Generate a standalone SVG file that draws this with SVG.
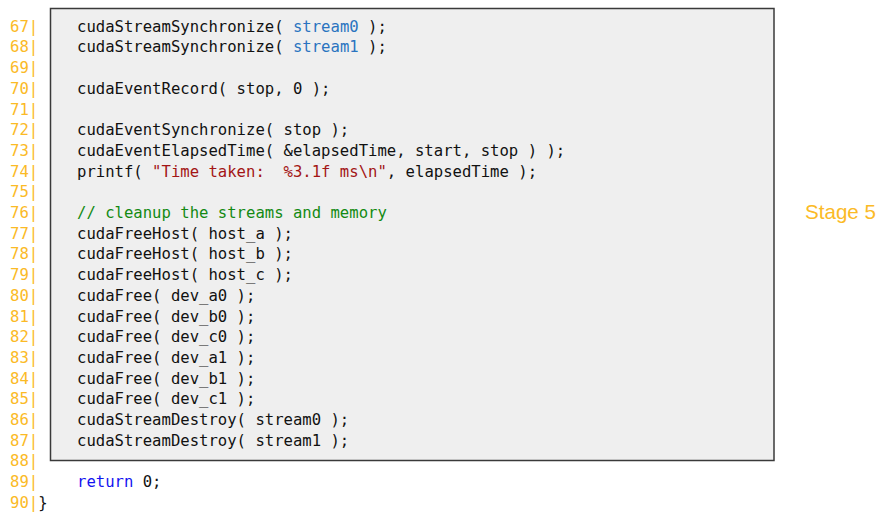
<svg xmlns="http://www.w3.org/2000/svg" width="886" height="522" viewBox="0 0 886 522">
<style>
text{white-space:pre}
.c{font-family:"DejaVu Sans Mono","Liberation Mono",monospace;font-size:15.6px;fill:#111}
.n{font-family:"DejaVu Sans Mono","Liberation Mono",monospace;font-size:15.6px;fill:#FBBA26}
.b{fill:#2A74C0}
.k{fill:#1414F0}
.s{fill:#A31515}
.g{fill:#138A13}
.st{font-family:"Liberation Sans","Open Sans",sans-serif;font-size:21px;fill:#FBBA26}
</style>
<rect width="886" height="522" fill="#fff"/>
<g id="codebox">
<rect x="50.5" y="8.5" width="723.5" height="452" fill="#EFEFEF" stroke="#3a3a3a" stroke-width="1.5"/>
</g>
<g id="linenumbers">
<text class="n" x="10" y="31.7">67|</text>
<text class="n" x="10" y="52.4">68|</text>
<text class="n" x="10" y="73.1">69|</text>
<text class="n" x="10" y="93.8">70|</text>
<text class="n" x="10" y="114.5">71|</text>
<text class="n" x="10" y="135.2">72|</text>
<text class="n" x="10" y="155.9">73|</text>
<text class="n" x="10" y="176.6">74|</text>
<text class="n" x="10" y="197.3">75|</text>
<text class="n" x="10" y="218">76|</text>
<text class="n" x="10" y="238.7">77|</text>
<text class="n" x="10" y="259.4">78|</text>
<text class="n" x="10" y="280.1">79|</text>
<text class="n" x="10" y="300.8">80|</text>
<text class="n" x="10" y="321.5">81|</text>
<text class="n" x="10" y="342.2">82|</text>
<text class="n" x="10" y="362.9">83|</text>
<text class="n" x="10" y="383.6">84|</text>
<text class="n" x="10" y="404.3">85|</text>
<text class="n" x="10" y="425">86|</text>
<text class="n" x="10" y="445.7">87|</text>
<text class="n" x="10" y="466.4">88|</text>
<text class="n" x="10" y="487.1">89|</text>
<text class="n" x="10" y="507.8">90|<tspan fill="#111">}</tspan></text>
</g>
<g id="code">
<text class="c" x="77" y="31.7">cudaStreamSynchronize( <tspan class="b">stream0</tspan> );</text>
<text class="c" x="77" y="52.4">cudaStreamSynchronize( <tspan class="b">stream1</tspan> );</text>
<text class="c" x="77" y="93.8">cudaEventRecord( stop, 0 );</text>
<text class="c" x="77" y="135.2">cudaEventSynchronize( stop );</text>
<text class="c" x="77" y="155.9">cudaEventElapsedTime( &amp;elapsedTime, start, stop ) );</text>
<text class="c" x="77" y="176.6">printf( <tspan class="s">"Time taken:  %3.1f ms\n"</tspan>, elapsedTime );</text>
<text class="c g" x="77" y="218">// cleanup the streams and memory</text>
<text class="c" x="77" y="238.7">cudaFreeHost( host_a );</text>
<text class="c" x="77" y="259.4">cudaFreeHost( host_b );</text>
<text class="c" x="77" y="280.1">cudaFreeHost( host_c );</text>
<text class="c" x="77" y="300.8">cudaFree( dev_a0 );</text>
<text class="c" x="77" y="321.5">cudaFree( dev_b0 );</text>
<text class="c" x="77" y="342.2">cudaFree( dev_c0 );</text>
<text class="c" x="77" y="362.9">cudaFree( dev_a1 );</text>
<text class="c" x="77" y="383.6">cudaFree( dev_b1 );</text>
<text class="c" x="77" y="404.3">cudaFree( dev_c1 );</text>
<text class="c" x="77" y="425">cudaStreamDestroy( stream0 );</text>
<text class="c" x="77" y="445.7">cudaStreamDestroy( stream1 );</text>
<text class="c" x="77" y="487.1"><tspan class="k">return</tspan> 0;</text>
</g>
<g id="stage5">
<text class="st" x="805" y="218.5" textLength="71" lengthAdjust="spacingAndGlyphs">Stage 5</text>
</g>
</svg>
